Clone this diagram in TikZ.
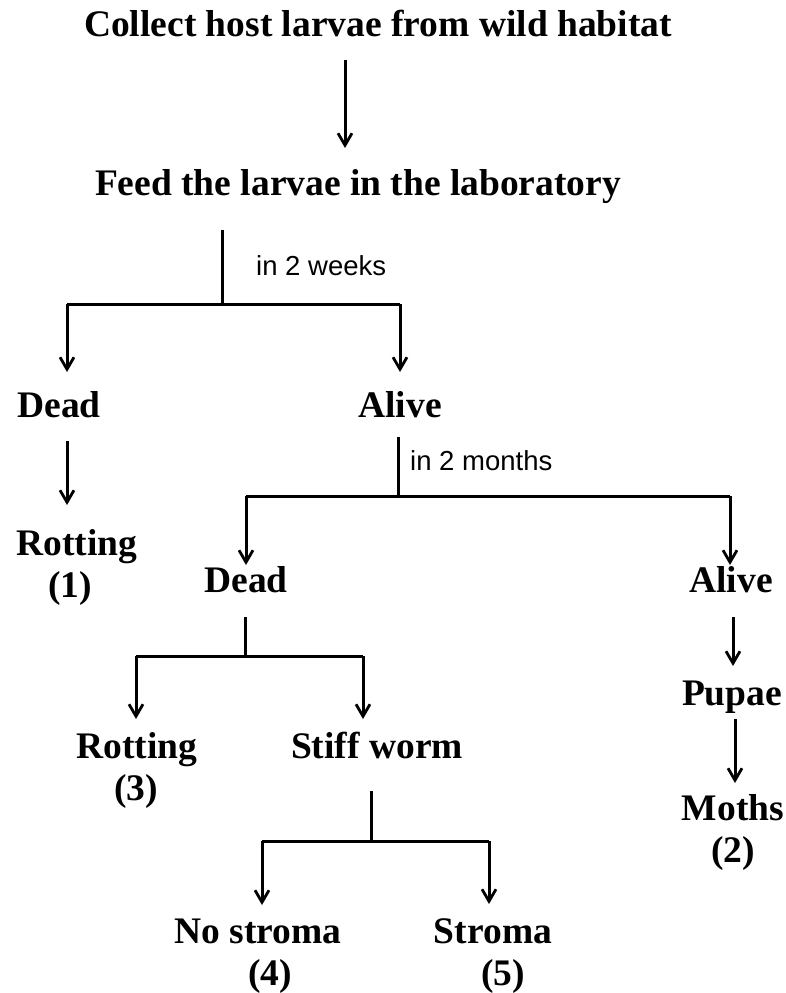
\documentclass[tikz,border=0pt]{standalone}
\usepackage{fontspec}
\setmainfont{Liberation Serif}
\newfontfamily\notefont{Liberation Sans}
\usepackage{tikz}
\usetikzlibrary{arrows.meta,positioning}
\tikzstyle{arrow} = [line width=3pt,-{Straight Barb[length=12pt,width=14pt,line width=2.8pt]}]
\tikzstyle{bar} = [line width=3pt]
\tikzstyle{stage} = [font=\bfseries\fontsize{37.5}{40}\selectfont, inner sep=0pt, anchor=base]
\tikzstyle{note} = [font=\notefont\fontsize{27.5}{30}\selectfont, inner sep=0pt, anchor=base west]

\begin{document}
\begin{tikzpicture}[x=1pt, y=-1pt]
\useasboundingbox (0,0) rectangle (786,993);

% Stages (placed on their baselines)
\node[stage] (collect) at (378,36) {Collect host larvae from wild habitat};
\node[stage] (feed) at (358,195) {Feed the larvae in the laboratory};
\node[stage] (dead1) at (59,417) {Dead};
\node[stage] (alive1) at (400,417) {Alive};
\node[stage] (rot1) at (77,555) {Rotting};
\node[stage] (num1) at (70,597) {(1)};
\node[stage] (dead2) at (246,592) {Dead};
\node[stage] (alive2) at (731,592) {Alive};
\node[stage] (pupae) at (732,705) {Pupae};
\node[stage] (moths) at (733,820) {Moths};
\node[stage] (num2) at (733,862) {(2)};
\node[stage] (rot3) at (137,758) {Rotting};
\node[stage] (num3) at (136,800) {(3)};
\node[stage] (stiff) at (377,758) {Stiff worm};
\node[stage] (nostroma) at (258,943) {No stroma};
\node[stage] (num4) at (270,985) {(4)};
\node[stage] (stroma) at (493,943) {Stroma};
\node[stage] (num5) at (503,985) {(5)};

% Time labels
\node[note] (weeks) at (256,275) {in 2 weeks};
\node[note] (months) at (410,470) {in 2 months};

% Arrow ends
\coordinate (a1s) at (345,60);   \coordinate (a1e) at (345,148);
\coordinate (a2s) at (67,441);   \coordinate (a2e) at (67,505);
\coordinate (a3s) at (733,617);  \coordinate (a3e) at (733,666);
\coordinate (a4s) at (735,719);  \coordinate (a4e) at (735,783);

% Branch points
\coordinate (f1top) at (222,230);
\coordinate (f1) at (222,304);
\coordinate (f1l) at (67,304);  \coordinate (f1le) at (67,372);
\coordinate (f1r) at (400,304); \coordinate (f1re) at (400,372);
\coordinate (f2top) at (398,437);
\coordinate (f2) at (398,496);
\coordinate (f2l) at (246,496); \coordinate (f2le) at (246,565);
\coordinate (f2r) at (730,496); \coordinate (f2re) at (730,565);
\coordinate (f3top) at (245,617);
\coordinate (f3) at (245,656);
\coordinate (f3l) at (136,656); \coordinate (f3le) at (136,719);
\coordinate (f3r) at (363,656); \coordinate (f3re) at (363,719);
\coordinate (f4top) at (371,791);
\coordinate (f4) at (371,841);
\coordinate (f4l) at (262,841); \coordinate (f4le) at (262,905);
\coordinate (f4r) at (489,841); \coordinate (f4re) at (489,904);

% Straight arrows
\draw[arrow] (a1s) -- (a1e);
\draw[arrow] (a2s) -- (a2e);
\draw[arrow] (a3s) -- (a3e);
\draw[arrow] (a4s) -- (a4e);

% Forks
\draw[bar] (f1top) -- (f1);
\draw[bar] (f1l) -- (f1r);
\draw[arrow] (f1l) -- (f1le);
\draw[arrow] (f1r) -- (f1re);

\draw[bar] (f2top) -- (f2);
\draw[bar] (f2l) -- (f2r);
\draw[arrow] (f2l) -- (f2le);
\draw[arrow] (f2r) -- (f2re);

\draw[bar] (f3top) -- (f3);
\draw[bar] (f3l) -- (f3r);
\draw[arrow] (f3l) -- (f3le);
\draw[arrow] (f3r) -- (f3re);

\draw[bar] (f4top) -- (f4);
\draw[bar] (f4l) -- (f4r);
\draw[arrow] (f4l) -- (f4le);
\draw[arrow] (f4r) -- (f4re);

\end{tikzpicture}
\end{document}
